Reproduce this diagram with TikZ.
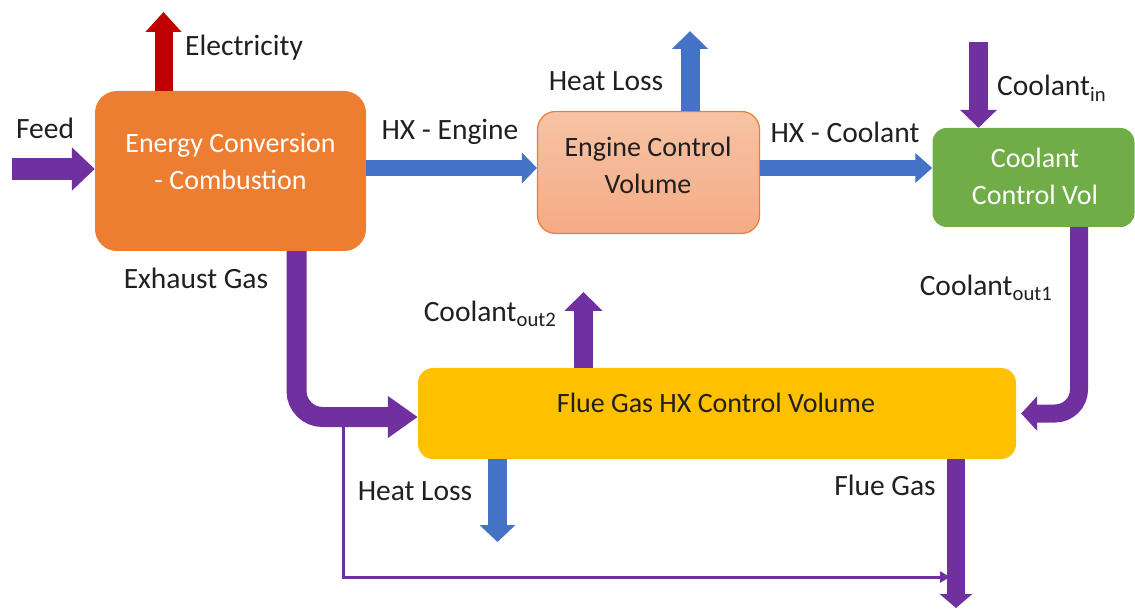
\documentclass[tikz,border=0pt]{standalone}
\usepackage{fontspec}
\setmainfont{Carlito}
\usetikzlibrary{arrows.meta}
\definecolor{eorange}{HTML}{ED7D31}
\definecolor{cpurple}{HTML}{7030A0}
\definecolor{cred}{HTML}{C00000}
\definecolor{cblue}{HTML}{4472C4}
\definecolor{cgreen}{HTML}{70AD47}
\definecolor{fyellow}{HTML}{FFC000}
\definecolor{engtop}{HTML}{F7C3A5}
\definecolor{engbot}{HTML}{F4AB85}
\definecolor{tdark}{HTML}{202020}
\tikzset{
  box/.style={rectangle, rounded corners=#1, inner sep=0pt},
  intext/.style={align=center, inner sep=0pt, font=\fontsize{28}{37}\selectfont},
  lbl/.style={text=tdark, inner sep=0pt, text height=21pt, text depth=4pt, font=\fontsize{29.5}{37}\selectfont},
  fat/.style n args={3}{line width=#1, -{Triangle[width=#2,length=#3]}}
}
\begin{document}
\begin{tikzpicture}[x=1pt,y=-1pt,font=\fontsize{28}{37}\selectfont]
\useasboundingbox (0,0) rectangle (1135,609);

% boxes
\node[box=22pt, fill=eorange, minimum width=271pt, minimum height=160pt] (energy) at (230.5,171) {};
\node[box=18pt, draw=eorange, line width=1.2pt, top color=engtop, bottom color=engbot, minimum width=222pt, minimum height=122pt] (engine) at (648.5,172.5) {};
\node[box=14pt, fill=cgreen, minimum width=202pt, minimum height=99pt] (coolant) at (1033.5,177.5) {};
\node[box=15pt, fill=fyellow, minimum width=598pt, minimum height=91pt] (flue) at (717,413.5) {};

% box texts
\node[intext, text=white] (energy-t) at (230.5,161.5) {Energy Conversion\\- Combustion};
\node[intext, text=tdark] (engine-t) at (648,165) {Engine Control\\Volume};
\node[intext, text=white] (coolant-t) at (1035,176.5) {Coolant\\Control Vol};
\node[intext, text=tdark] (flue-t) at (716,403) {Flue Gas HX Control Volume};

% coordinates for free ends
\coordinate (feed-s) at (12,169);
\coordinate (elec-t) at (163.5,12);
\coordinate (hxe) at (450,168);
\coordinate (hl1-t) at (690,31);
\coordinate (cin-s) at (978.5,42);
\coordinate (cout1) at (1079,300);
\coordinate (exh) at (296.5,300);
\coordinate (exh-y) at (300,417);
\coordinate (co2-t) at (583.5,292);
\coordinate (hl2-t) at (497.5,542);
\coordinate (fg-t) at (956,608);
\coordinate (byp-s) at (343,420);
\coordinate (byp-c) at (343,577);
\coordinate (byp-e) at (950,577);

% arrows
\draw[fat={22pt}{42pt}{23pt}, cpurple] (feed-s) -- (feed-s -| energy.west);
\draw[fat={18pt}{35pt}{20pt}, cred] (energy.north -| elec-t) -- (elec-t);
\draw[fat={16pt}{30pt}{15pt}, cblue] (energy.east |- hxe) -- (engine.west |- hxe);
\draw[fat={19pt}{35pt}{18pt}, cblue] (engine.north -| hl1-t) -- (hl1-t);
\draw[fat={16pt}{29pt}{17pt}, cblue] (engine.east |- hxe) -- (coolant.west |- hxe);
\draw[fat={19pt}{36pt}{18pt}, cpurple] (cin-s) -- (cin-s |- coolant.north);
\draw[fat={18pt}{34pt}{16pt}, cpurple, rounded corners=24pt] (coolant.south -| cout1) |- ([xshift=5pt]flue.east);
\draw[fat={20pt}{40pt}{30pt}, cpurple, rounded corners=26pt] (energy.south -| exh) |- (flue.west |- exh-y);
\draw[fat={19pt}{37pt}{19pt}, cpurple] (flue.north -| co2-t) -- (co2-t);
\draw[fat={19pt}{35pt}{17pt}, cblue] (flue.south -| hl2-t) -- (hl2-t);
\draw[fat={18pt}{32pt}{14pt}, cpurple] (flue.south -| fg-t) -- (fg-t);
\draw[cpurple, line width=3pt, -{Triangle[width=11pt,length=10pt]}] (byp-s) -- (byp-c) -- (byp-e);

% labels
\node[lbl] (l-feed) at (45,130) {Feed};
\node[lbl, anchor=west] (l-elec) at (185,47) {Electricity};
\node[lbl] (l-hxe) at (450,131) {HX - Engine};
\node[lbl] (l-hl1) at (606,82) {Heat Loss};
\node[lbl] (l-hxc) at (845,134) {HX - Coolant};
\node[lbl, anchor=west] (l-cin) at (997,87) {Coolant\textsubscript{in}};
\node[lbl] (l-co1) at (986,287) {Coolant\textsubscript{out1}};
\node[lbl] (l-exh) at (196,280) {Exhaust Gas};
\node[lbl] (l-co2) at (490,313) {Coolant\textsubscript{out2}};
\node[lbl] (l-hl2) at (415,492) {Heat Loss};
\node[lbl] (l-fg) at (885,487) {Flue Gas};
\end{tikzpicture}
\end{document}
